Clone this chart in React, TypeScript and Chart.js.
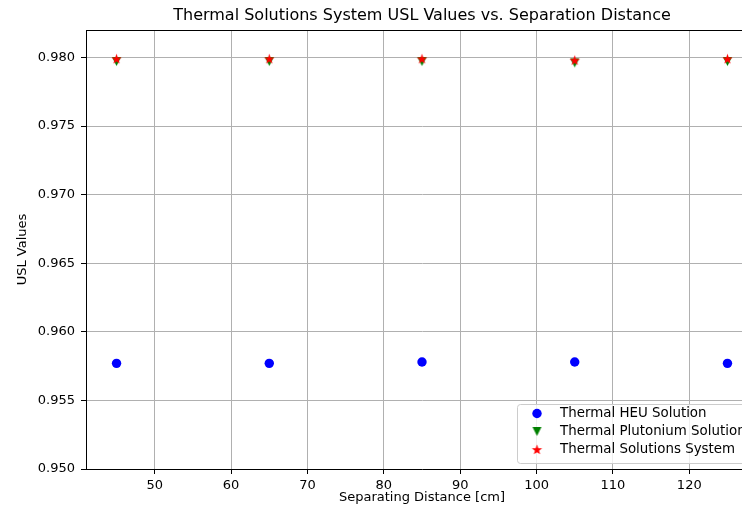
import React, { useEffect, useRef } from "react";
import { Chart, registerables } from "chart.js";

Chart.register(...registerables);

const titleText = "Thermal Solutions System USL Values vs. Separation Distance";
const xLabel = "Separating Distance [cm]";
const yLabel = "USL Values";

const distances = [45, 65, 85, 105, 125];
const heuValues = [0.9577, 0.9577, 0.9578, 0.9578, 0.9577];
const puValues = [0.9797, 0.9797, 0.9797, 0.9796, 0.9797];
const systemValues = [0.9799, 0.9799, 0.9799, 0.9798, 0.9799];

const seriesNames = ["Thermal HEU Solution", "Thermal Plutonium Solution", "Thermal Solutions System"];

const xTicks = [50, 60, 70, 80, 90, 100, 110, 120];
const yTicks = [0.95, 0.955, 0.96, 0.965, 0.97, 0.975, 0.98];

const FONT = '"DejaVu Sans", sans-serif';

function makeStar(color: string, outer: number, inner: number) {
  const size = Math.ceil(outer * 2 + 2);
  const c = document.createElement("canvas");
  c.width = size;
  c.height = size;
  const g = c.getContext("2d")!;
  g.translate(size / 2, size / 2 + 0.5);
  g.beginPath();
  for (let i = 0; i < 10; i++) {
    const r = i % 2 === 0 ? outer : inner;
    const a = -Math.PI / 2 + (i * Math.PI) / 5;
    g.lineTo(r * Math.cos(a), r * Math.sin(a));
  }
  g.closePath();
  g.fillStyle = color;
  g.fill();
  return c;
}

function makeTriDown(color: string, h: number) {
  const size = Math.ceil(h * 2 + 2);
  const c = document.createElement("canvas");
  c.width = size;
  c.height = size;
  const g = c.getContext("2d")!;
  g.translate(size / 2, size / 2);
  g.beginPath();
  g.moveTo(0, h);
  g.lineTo(-h, -h);
  g.lineTo(h, -h);
  g.closePath();
  g.fillStyle = color;
  g.fill();
  return c;
}

const decor = {
  id: "decor",
  afterDraw(chart: any) {
    const { ctx, chartArea: ca } = chart;
    ctx.save();
    ctx.strokeStyle = "#000";
    ctx.lineWidth = 1;
    ctx.beginPath();
    ctx.moveTo(ca.left, ca.top + 0.5);
    ctx.lineTo(ca.right, ca.top + 0.5);
    ctx.moveTo(ca.right - 0.5, ca.top);
    ctx.lineTo(ca.right - 0.5, ca.bottom);
    ctx.stroke();

    ctx.font = "16px " + FONT;
    ctx.fillStyle = "#000";
    ctx.textAlign = "center";
    ctx.textBaseline = "middle";
    ctx.fillText(titleText, (ca.left + ca.right) / 2, 16);

    // legend
    const bx = 517.5, by = 404.5, bw = 260, bh = 59;
    ctx.beginPath();
    const r = 3;
    ctx.moveTo(bx + r, by);
    ctx.lineTo(bx + bw - r, by);
    ctx.arcTo(bx + bw, by, bx + bw, by + r, r);
    ctx.lineTo(bx + bw, by + bh - r);
    ctx.arcTo(bx + bw, by + bh, bx + bw - r, by + bh, r);
    ctx.lineTo(bx + r, by + bh);
    ctx.arcTo(bx, by + bh, bx, by + bh - r, r);
    ctx.lineTo(bx, by + r);
    ctx.arcTo(bx, by, bx + r, by, r);
    ctx.closePath();
    ctx.fillStyle = "rgba(255,255,255,0.8)";
    ctx.fill();
    ctx.strokeStyle = "#cccccc";
    ctx.stroke();

    const rows = [413.5, 431.5, 449.5];
    chart.data.datasets.forEach((ds: any, i: number) => {
      const y = rows[i];
      const x = 537;
      const ps = ds.pointStyle;
      if (ps && typeof ps === "object") {
        ctx.drawImage(ps, x - ps.width / 2, y - ps.height / 2);
      } else {
        ctx.beginPath();
        ctx.arc(x, y, ds.pointRadius, 0, Math.PI * 2);
        ctx.fillStyle = ds.backgroundColor;
        ctx.fill();
      }
      ctx.font = "13.4px " + FONT;
      ctx.fillStyle = "#000";
      ctx.textAlign = "left";
      ctx.textBaseline = "middle";
      ctx.fillText(ds.label, 560, y);
    });
    ctx.restore();
  },
};

export default function App() {
  const ref = useRef<HTMLCanvasElement | null>(null);
  useEffect(() => {
    if (!ref.current) return;
    const star = makeStar("#ff0000", 5.4, 2.2);
    const tri = makeTriDown("#008000", 4.5);
    const chart = new Chart(ref.current, {
      type: "scatter",
      data: {
        datasets: [
          {
            label: seriesNames[0],
            data: distances.map((x, i) => ({ x, y: heuValues[i] })),
            pointStyle: "circle",
            pointRadius: 4.7,
            backgroundColor: "#0000ff",
            borderWidth: 0,
            order: 3,
          },
          {
            label: seriesNames[1],
            data: distances.map((x, i) => ({ x, y: puValues[i] })),
            pointStyle: tri as any,
            pointRadius: 5,
            backgroundColor: "#008000",
            borderWidth: 0,
            order: 2,
          },
          {
            label: seriesNames[2],
            data: distances.map((x, i) => ({ x, y: systemValues[i] })),
            pointStyle: star as any,
            pointRadius: 5,
            backgroundColor: "#ff0000",
            borderWidth: 0,
            order: 1,
          },
        ],
      },
      options: {
        animation: false,
        responsive: false,
        devicePixelRatio: 1,
        events: [],
        layout: { padding: { top: 30, right: 22, left: 0, bottom: 0 } },
        plugins: { legend: { display: false }, tooltip: { enabled: false }, title: { display: false } },
        scales: {
          x: {
            type: "linear",
            min: 41,
            max: 129,
            afterBuildTicks: (s: any) => {
              s.ticks = xTicks.map((v) => ({ value: v }));
            },
            afterFit: (s: any) => {
              s.height = 39;
            },
            grid: { color: "#b0b0b0", lineWidth: 1, tickLength: 5, tickColor: "#000" },
            border: { color: "#000", width: 1 },
            ticks: { font: { family: FONT, size: 13 }, color: "#000", padding: 4, autoSkip: false, maxRotation: 0, callback: (v: any) => String(v) },
            title: { display: true, text: xLabel, font: { family: FONT, size: 13 }, color: "#000", padding: { top: 0, bottom: 3 } },
          },
          y: {
            type: "linear",
            min: 0.95,
            max: 0.982,
            afterBuildTicks: (s: any) => {
              s.ticks = yTicks.map((v) => ({ value: v }));
            },
            afterFit: (s: any) => {
              s.width = 86;
            },
            grid: { color: "#b0b0b0", lineWidth: 1, tickLength: 5, tickColor: "#000" },
            border: { color: "#000", width: 1 },
            ticks: { font: { family: FONT, size: 13 }, color: "#000", padding: 6, callback: (v: any) => Number(v).toFixed(3) },
            title: { display: true, text: yLabel, font: { family: FONT, size: 13 }, color: "#000", padding: { top: 15, bottom: 0 } },
          },
        },
      },
      plugins: [decor],
    } as any);
    return () => chart.destroy();
  }, []);
  return (
    <div style={{ position: "fixed", left: 0, top: 0, width: 742, height: 508, overflow: "hidden", background: "#fff" }}>
      <canvas ref={ref} width={780} height={508} style={{ display: "block" }} />
    </div>
  );
}
